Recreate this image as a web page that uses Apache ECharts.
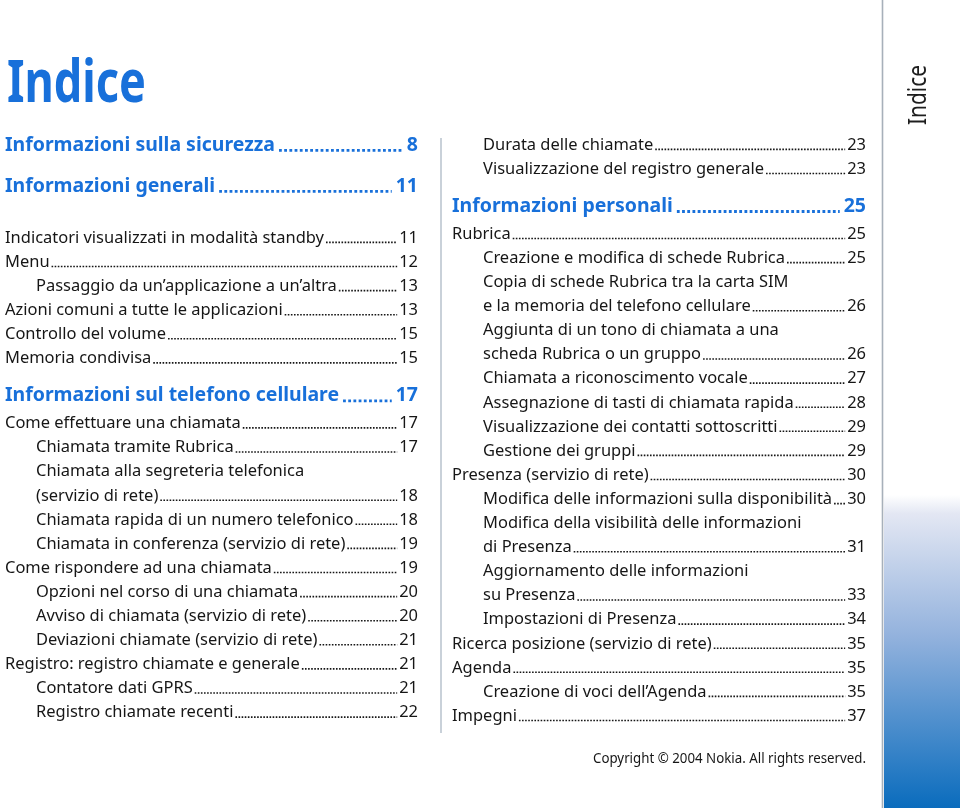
<!DOCTYPE html>
<html><head><meta charset="utf-8">
<script src="https://cdn.jsdelivr.net/npm/echarts/dist/echarts.min.js"></script>
<style>html,body{margin:0;padding:0;background:#fff}#c{width:960px;height:808px}</style>
</head><body><div id="c"></div>
<script>
// ---------- content ----------
const pageTitle = 'Indice';
const sideLabel = 'Indice';
const copyrightText = 'Copyright \u00A9 2004 Nokia. All rights reserved.';

const leftEntries = [
  'Informazioni sulla sicurezza',
  'Informazioni generali',
  'Indicatori visualizzati in modalità standby',
  'Menu',
  'Passaggio da un\u2019applicazione a un\u2019altra',
  'Azioni comuni a tutte le applicazioni',
  'Controllo del volume',
  'Memoria condivisa',
  'Informazioni sul telefono cellulare',
  'Come effettuare una chiamata',
  'Chiamata tramite Rubrica',
  'Chiamata alla segreteria telefonica',
  '(servizio di rete)',
  'Chiamata rapida di un numero telefonico',
  'Chiamata in conferenza (servizio di rete)',
  'Come rispondere ad una chiamata',
  'Opzioni nel corso di una chiamata',
  'Avviso di chiamata (servizio di rete)',
  'Deviazioni chiamate (servizio di rete)',
  'Registro: registro chiamate e generale',
  'Contatore dati GPRS',
  'Registro chiamate recenti'
];
const leftPages = [8, 11, 11, 12, 13, 13, 15, 15, 17, 17, 17, null, 18, 18, 19, 19, 20, 20, 21, 21, 21, 22];
const leftLevels = ['h', 'h', 0, 0, 1, 0, 0, 0, 'h', 0, 1, 1, 1, 1, 1, 0, 1, 1, 1, 0, 1, 1];

const rightEntries = [
  'Durata delle chiamate',
  'Visualizzazione del registro generale',
  'Informazioni personali',
  'Rubrica',
  'Creazione e modifica di schede Rubrica',
  'Copia di schede Rubrica tra la carta SIM',
  'e la memoria del telefono cellulare',
  'Aggiunta di un tono di chiamata a una',
  'scheda Rubrica o un gruppo',
  'Chiamata a riconoscimento vocale',
  'Assegnazione di tasti di chiamata rapida',
  'Visualizzazione dei contatti sottoscritti',
  'Gestione dei gruppi',
  'Presenza (servizio di rete)',
  'Modifica delle informazioni sulla disponibilità',
  'Modifica della visibilità delle informazioni',
  'di Presenza',
  'Aggiornamento delle informazioni',
  'su Presenza',
  'Impostazioni di Presenza',
  'Ricerca posizione (servizio di rete)',
  'Agenda',
  'Creazione di voci dell\u2019Agenda',
  'Impegni'
];
const rightPages = [23, 23, 25, 25, 25, null, 26, null, 26, 27, 28, 29, 29, 30, 30, null, 31, null, 33, 34, 35, 35, 35, 37];
const rightLevels = [1, 1, 'h', 0, 1, 1, 1, 1, 1, 1, 1, 1, 1, 0, 1, 1, 1, 1, 1, 1, 0, 0, 1, 0];

// ---------- styling / layout ----------
const FAMILY = '"Noto Sans", "Open Sans", "DejaVu Sans", sans-serif';
const BLUE = '#1870da';
const INK = '#161616';
const canvas = document.createElement('canvas');
const ctx = canvas.getContext('2d');
function fontStr(weight, size) { return weight + ' ' + size + 'px ' + FAMILY; }
function measure(t, font) { ctx.font = font; return ctx.measureText(t).width; }

const itemFont = fontStr('normal', 16.5);
const headFont = fontStr('bold', 20);
const titleFont = fontStr('bold', 60);
const sideFont = fontStr('normal', 26);
const copyFont = fontStr('normal', 15);
const sItem = 319 / measure('Indicatori visualizzati in modalità standby', itemFont);
const sHead = 270 / measure('Informazioni sulla sicurezza', headFont);
const sTitle = 139 / measure('Indice', titleFont);
const sSide = 60 / measure('Indice', sideFont);
const sCopy = 273 / measure(copyrightText, copyFont);

function rowYs(levels, startY, extra) {
  const ys = [];
  let y = startY;
  for (let i = 0; i < levels.length; i++) {
    if (i > 0) {
      const p = levels[i - 1], c = levels[i];
      let g = 24.1;
      if (p === 'h' && c === 'h') g = 41;
      else if (p === 'h') g = 28;
      else if (c === 'h') g = 37;
      y += g + (extra[i] || 0);
    }
    ys.push(y);
  }
  return ys;
}

const graphics = [];

function column(entries, pages, levels, ys, x0, x1, pageRight) {
  entries.forEach((txt, i) => {
    const lvl = levels[i];
    const isH = lvl === 'h';
    const font = isH ? headFont : itemFont;
    const s = isH ? sHead : sItem;
    const color = isH ? BLUE : INK;
    const x = lvl === 1 ? x1 : x0;
    const y = ys[i];
    graphics.push({
      type: 'text', x: x, y: y, scaleX: s, silent: true,
      style: { text: txt, font: font, fill: color, textAlign: 'left', textVerticalAlign: 'middle' }
    });
    if (pages[i] != null) {
      const pt = String(pages[i]);
      graphics.push({
        type: 'text', x: pageRight, y: y, scaleX: s, silent: true,
        style: { text: pt, font: font, fill: color, textAlign: 'right', textVerticalAlign: 'middle' }
      });
      const tw = measure(txt, font) * s;
      const pw = measure(pt, font) * s;
      const lx1 = x + tw + (isH ? 4 : 2);
      const lx2 = pageRight - pw - (isH ? 4 : 2);
      const dw = isH ? 2.8 : 1.6;
      const gap = isH ? 2.4 : 1.5;
      const ly = y + (isH ? 5.4 : 4.4);
      graphics.push({
        type: 'line', silent: true,
        shape: { x1: lx1, y1: ly, x2: lx2, y2: ly },
        style: { stroke: color, lineWidth: dw, lineDash: [dw, gap], lineCap: 'butt' }
      });
    }
  });
}

const leftYs = rowYs(leftLevels, 145, { 2: 24 });
const rightYs = rowYs(rightLevels, 145, {});
column(leftEntries, leftPages, leftLevels, leftYs, 5, 36, 418);
column(rightEntries, rightPages, rightLevels, rightYs, 452, 483, 866);

// title
graphics.push({
  type: 'text', x: 7, y: 85, scaleX: sTitle, silent: true,
  style: { text: pageTitle, font: titleFont, fill: BLUE, textAlign: 'left', textVerticalAlign: 'middle' }
});
// middle divider
graphics.push({ type: 'line', silent: true, shape: { x1: 441, y1: 138, x2: 441, y2: 733 },
  style: { stroke: '#b7c2cd', lineWidth: 1.5 } });
// side strip gradient
graphics.push({ type: 'rect', silent: true, shape: { x: 884, y: 495, width: 76, height: 313 },
  style: { fill: new echarts.graphic.LinearGradient(0, 0, 0, 1, [
    { offset: 0, color: '#ffffff' },
    { offset: 0.06, color: '#e3e7f3' },
    { offset: 0.45, color: '#93b2dd' },
    { offset: 1, color: '#0a6cbd' }
  ]) } });
// side strip line
graphics.push({ type: 'line', silent: true, shape: { x1: 882.5, y1: 0, x2: 882.5, y2: 808 },
  style: { stroke: '#a7b0ba', lineWidth: 1.6 } });
// side label
graphics.push({
  type: 'text', x: 919, y: 95, rotation: Math.PI / 2, scaleX: sSide, silent: true,
  style: { text: sideLabel, font: sideFont, fill: '#1e1e1e', textAlign: 'center', textVerticalAlign: 'middle' }
});
// copyright
graphics.push({
  type: 'text', x: 866, y: 759, scaleX: sCopy, silent: true,
  style: { text: copyrightText, font: copyFont, fill: INK, textAlign: 'right', textVerticalAlign: 'middle' }
});

const chart = echarts.init(document.getElementById('c'), null, { renderer: 'canvas' });
chart.setOption({
  backgroundColor: '#ffffff',
  animation: false,
  graphic: { elements: graphics }
});
</script>
</body></html>
